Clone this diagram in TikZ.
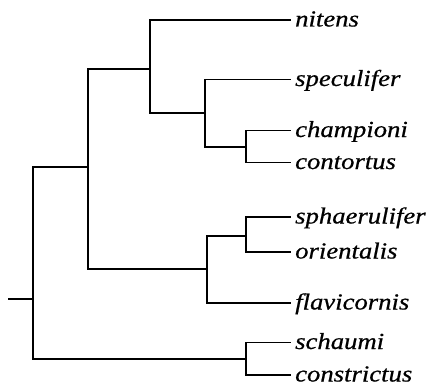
\documentclass[tikz,border=0pt]{standalone}
\usepackage{fontspec}
\newfontfamily\labfont{Liberation Serif}[FakeStretch=1.16,FakeBold=0.6]
\begin{document}
\begin{tikzpicture}[x=1pt,y=-1pt,
  branch/.style={line width=1.6pt,line cap=rect},
  leaf/.style={anchor=west,inner xsep=5pt,inner ysep=0pt,
    text height=15pt,text depth=2pt,
    font=\labfont\itshape\fontsize{23}{26}\selectfont}]
\useasboundingbox (0,0) rectangle (428,385);
% leaves
\node[leaf] (nitens) at (290,20) {nitens};
\node[leaf] (speculifer) at (290,79.5) {speculifer};
\node[leaf] (championi) at (290,130.5) {championi};
\node[leaf] (contortus) at (290,162.5) {contortus};
\node[leaf] (sphaerulifer) at (290,217) {sphaerulifer};
\node[leaf] (orientalis) at (290,252) {orientalis};
\node[leaf] (flavicornis) at (290,303) {flavicornis};
\node[leaf] (schaumi) at (290,342.5) {schaumi};
\node[leaf] (constrictus) at (290,375) {constrictus};
% internal nodes
\coordinate (A) at (246,147);
\coordinate (B) at (205,113);
\coordinate (C) at (150,69);
\coordinate (D) at (246,236);
\coordinate (E) at (207,269);
\coordinate (F) at (88,167);
\coordinate (G) at (246,359);
\coordinate (R) at (33,299);
\coordinate (S) at (9,299);
% branches
\draw[branch] (S) -- (R);
\draw[branch] (R) |- (F);
\draw[branch] (R) |- (G);
\draw[branch] (F) |- (C);
\draw[branch] (F) |- (E);
\draw[branch] (C) |- (nitens);
\draw[branch] (C) |- (B);
\draw[branch] (B) |- (speculifer);
\draw[branch] (B) |- (A);
\draw[branch] (A) |- (championi);
\draw[branch] (A) |- (contortus);
\draw[branch] (E) |- (D);
\draw[branch] (E) |- (flavicornis);
\draw[branch] (D) |- (sphaerulifer);
\draw[branch] (D) |- (orientalis);
\draw[branch] (G) |- (schaumi);
\draw[branch] (G) |- (constrictus);
\end{tikzpicture}
\end{document}
